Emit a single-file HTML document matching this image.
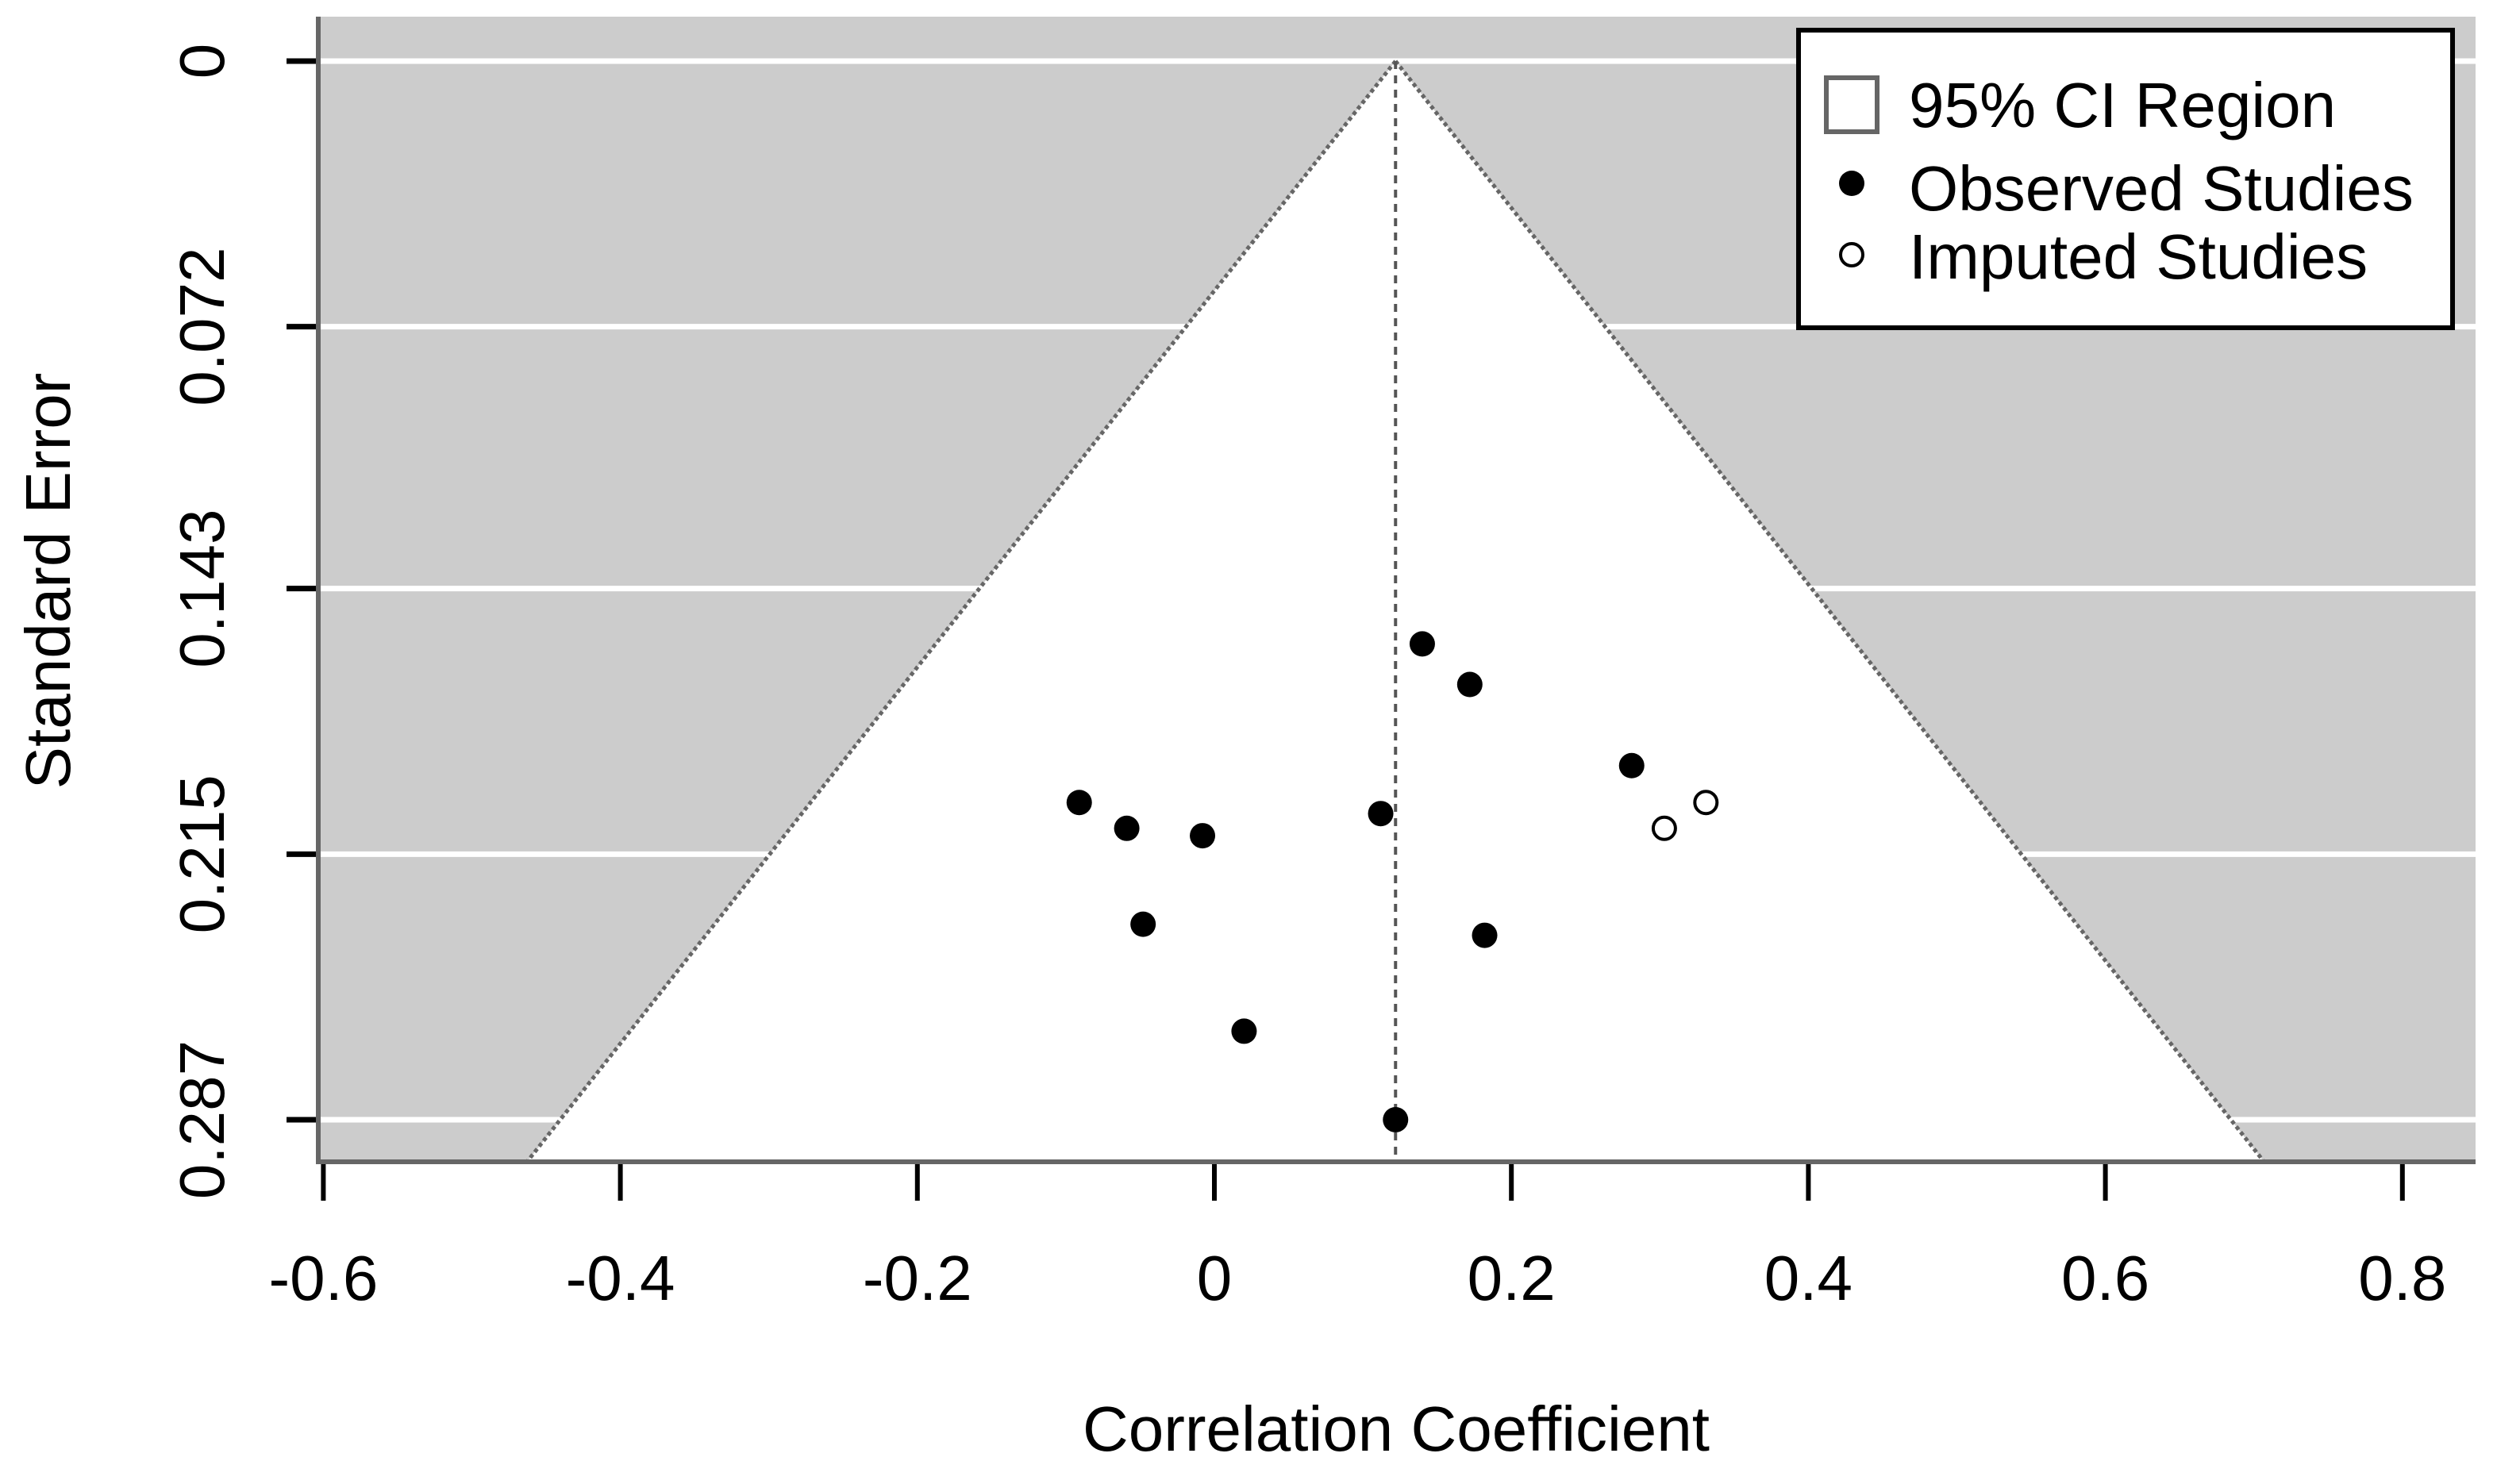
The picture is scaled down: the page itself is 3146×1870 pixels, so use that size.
<!DOCTYPE html>
<html><head><meta charset="utf-8"><style>
html,body{margin:0;padding:0;background:#fff;}
svg{display:block;font-family:"Liberation Sans",Arial,sans-serif;}
</style></head><body>
<svg id="chart" width="3146" height="1870" viewBox="0 0 3146 1870"></svg>
<script>
const xTicks = [-0.6, -0.4, -0.2, 0, 0.2, 0.4, 0.6, 0.8];
const xTickLabels = ["-0.6", "-0.4", "-0.2", "0", "0.2", "0.4", "0.6", "0.8"];
const yTicks = [0, 0.072, 0.143, 0.215, 0.287];
const yTickLabels = ["0", "0.072", "0.143", "0.215", "0.287"];
const observedR = [-0.091, -0.059, -0.008, -0.048, 0.020, 0.112, 0.122, 0.140, 0.172, 0.182, 0.281];
const observedSE = [0.201, 0.208, 0.210, 0.234, 0.263, 0.204, 0.287, 0.158, 0.169, 0.237, 0.191];
const imputedR = [0.303, 0.331];
const imputedSE = [0.208, 0.201];
const pooledEffect = 0.122;
const seMax = 0.2984;

const NS = "http://www.w3.org/2000/svg";
const svg = document.getElementById("chart");
const L = 401, R = 3119, T = 21, B = 1464;
const xs = v => 1530 + v * 1871;
const ys = v => 77 + v * 4648;
function mk(tag, attrs, parent) {
  const e = document.createElementNS(NS, tag);
  for (const k in attrs) e.setAttribute(k, attrs[k]);
  (parent || svg).appendChild(e);
  return e;
}
let e;
e = mk("rect", {x: L, y: T, width: R - L, height: B - T, fill: "#cccccc"});


yTicks.forEach((t, i) => {
  const g = mk("line", {x1: L, x2: R, y1: ys(t), y2: ys(t), stroke: "#fff", "stroke-width": 7});
  
  
});
const apexX = xs(pooledEffect), apexY = ys(0);
const lx = xs(pooledEffect - 1.96 * seMax), rx = xs(pooledEffect + 1.96 * seMax);
e = mk("polygon", {points: `${apexX},${apexY} ${lx},${B} ${rx},${B}`, fill: "#fff"});


e = mk("line", {x1: apexX, y1: apexY, x2: lx, y2: B, stroke: "#666", "stroke-width": 5, "stroke-dasharray": "5 4"});


e = mk("line", {x1: apexX, y1: apexY, x2: rx, y2: B, stroke: "#666", "stroke-width": 5, "stroke-dasharray": "5 4"});


e = mk("line", {x1: apexX, y1: apexY, x2: apexX, y2: B, stroke: "#555", "stroke-width": 4, "stroke-dasharray": "10 8"});


e = mk("polyline", {points: `${L},${T} ${L},${B} ${R},${B}`, fill: "none", stroke: "#666", "stroke-width": 6});


xTicks.forEach((t, i) => {
  const tk = mk("line", {x1: xs(t), x2: xs(t), y1: B + 3, y2: 1513, stroke: "#000", "stroke-width": 6});
  
  
  const tx = mk("text", {x: xs(t), y: 1638, "font-size": 80, "text-anchor": "middle", fill: "#000"});
  tx.textContent = xTickLabels[i];
  
  
});
yTicks.forEach((t, i) => {
  const tk = mk("line", {x1: 361, x2: L - 3, y1: ys(t), y2: ys(t), stroke: "#000", "stroke-width": 7});
  
  
  const tx = mk("text", {x: 0, y: 0, "font-size": 80, "text-anchor": "middle", fill: "#000",
    transform: `translate(282,${ys(t)}) rotate(-90)`});
  tx.textContent = yTickLabels[i];
  
  
});
e = mk("text", {x: 0, y: 0, "font-size": 80, "text-anchor": "middle", transform: "translate(88,732) rotate(-90)"});
e.textContent = "Standard Error";


e = mk("text", {x: 1759, y: 1828, "font-size": 80, "text-anchor": "middle"});
e.textContent = "Correlation Coefficient";


observedR.forEach((r, i) => {
  const c = mk("circle", {cx: xs(r), cy: ys(observedSE[i]), r: 16, fill: "#000"});
  
  
});
imputedR.forEach((r, i) => {
  const c = mk("circle", {cx: xs(r), cy: ys(imputedSE[i]), r: 14, fill: "#fff", stroke: "#000", "stroke-width": 4});
  
  
});
const lg = mk("g", {});


mk("rect", {x: 2266, y: 38, width: 824, height: 375, fill: "#fff", stroke: "#000", "stroke-width": 6}, lg);
e = mk("rect", {x: 2301, y: 98, width: 64, height: 68, fill: "#fff", stroke: "#666", "stroke-width": 6}, lg);


e = mk("circle", {cx: 2333, cy: 231, r: 16, fill: "#000"}, lg);


e = mk("circle", {cx: 2333, cy: 321, r: 14, fill: "#fff", stroke: "#000", "stroke-width": 4}, lg);


[["95% CI Region", 160], ["Observed Studies", 265], ["Imputed Studies", 351]].forEach(([t, y]) => {
  const tx = mk("text", {x: 2405, y: y, "font-size": 80}, lg);
  tx.textContent = t;
  
  
});
</script>
</body></html>
